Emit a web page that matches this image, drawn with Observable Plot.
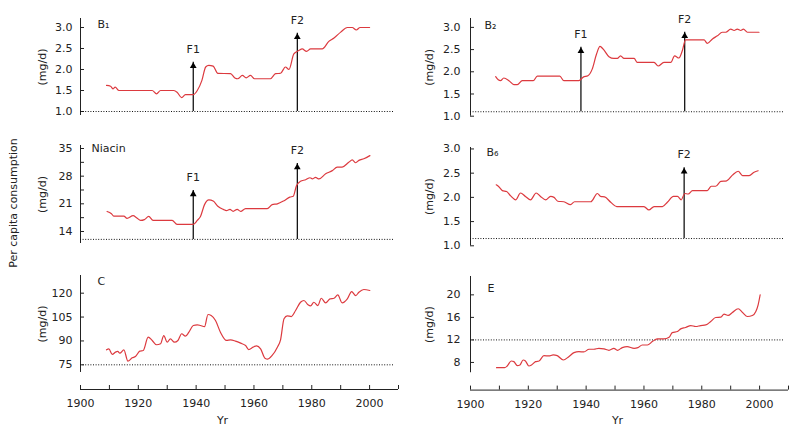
<!DOCTYPE html>
<html>
<head>
<meta charset="utf-8">
<script src="https://cdn.jsdelivr.net/npm/d3@7"></script>
<script src="https://cdn.jsdelivr.net/npm/@observablehq/plot@0.6"></script>
<style>
  html, body { margin: 0; padding: 0; background: #fff; }
  #root { position: relative; width: 800px; height: 439px; overflow: hidden; background: #fff; font-family: "DejaVu Sans", Verdana, sans-serif; }
  #root svg { position: absolute; }
  #ylab { position: absolute; left: 13px; top: 203px; transform: translate(-50%, -50%) rotate(-90deg); font-size: 11px; color: #222; white-space: nowrap; }
</style>
</head>
<body>
<div id="root"><div id="ylab">Per capita consumption</div></div>
<script>
// ---------- data (year, mg/d) ----------
const b1 = [[1909,1.62],[1910.4,1.6],[1911.3,1.54],[1912,1.58],[1913.3,1.5],[1924.8,1.5],[1926.3,1.42],[1927.7,1.5],[1932.3,1.5],[1933.4,1.46],[1935,1.33],[1936.3,1.4],[1939,1.4],[1940.4,1.5],[1942,1.74],[1943.3,2.06],[1944.4,2.1],[1945.9,2.08],[1947.5,1.91],[1951.9,1.9],[1953.4,1.8],[1954.4,1.78],[1956,1.86],[1957.3,1.8],[1958.8,1.86],[1960.2,1.78],[1965.7,1.78],[1967.5,1.9],[1969.2,1.91],[1970.9,2.06],[1972.1,2.0],[1973.8,2.37],[1975.5,2.45],[1976.7,2.49],[1978.2,2.43],[1979.6,2.49],[1983.6,2.49],[1985.9,2.67],[1987.7,2.75],[1990,2.89],[1992.3,3.0],[1994,3.0],[1995.4,2.94],[1996.7,3.0],[2000,3.0]];
const niacin = [[1909.2,19.06],[1910.7,18.5],[1911.5,17.9],[1915,17.9],[1916.1,17.3],[1918.2,18.0],[1919.4,17.5],[1920.8,16.8],[1922.1,17.0],[1923.6,17.8],[1925.1,16.8],[1931.7,16.8],[1933.4,15.8],[1939,15.8],[1940.4,16.8],[1941.5,17.8],[1942.9,20.8],[1944.4,22.0],[1945.9,21.7],[1947.5,20.4],[1949.4,19.6],[1950.5,19.3],[1951.7,19.6],[1952.8,19.1],[1954.2,19.6],[1955.4,19.1],[1957.1,19.8],[1964.6,19.8],[1966.3,20.8],[1968.1,21.0],[1970.4,21.8],[1972.4,22.7],[1973.6,22.9],[1974.7,25.6],[1976.1,26.7],[1977.9,27.1],[1979.4,27.6],[1980.2,27.3],[1981.3,27.7],[1982.5,27.3],[1984.8,28.6],[1987.1,29.4],[1988.8,30.3],[1990.5,30.3],[1992.8,31.5],[1994,32.1],[1995.2,31.4],[1996.3,32.0],[1998,32.4],[2000.1,33.2]];
const vitC = [[1909,84.4],[1909.8,85],[1911,81.5],[1912.1,83],[1912.9,83.4],[1913.6,82.3],[1915,84.4],[1916.4,77.3],[1917.9,79.4],[1919,80.2],[1920.5,83.6],[1921.7,84],[1923.4,92.4],[1924.8,90.3],[1926.3,87.6],[1927.7,88.2],[1928.8,93.4],[1930,89.2],[1931.1,91.3],[1932.5,89.2],[1933.7,90.3],[1935,94.5],[1936.3,93],[1937.5,95.5],[1939,99.7],[1940.4,100.1],[1941.5,99.7],[1942.9,99],[1944.1,106.6],[1945.2,106],[1946.7,102.8],[1948.4,95.5],[1950.5,90.3],[1951.9,90.7],[1953.6,89.9],[1955.4,88.6],[1957.1,87.1],[1958.2,84.6],[1959.7,86.1],[1960.9,86.9],[1962.3,85],[1963.8,79.2],[1964.8,78.6],[1966.3,80.9],[1968.1,86.1],[1969.2,90.7],[1970.4,103.9],[1971.5,105.8],[1972.9,105.3],[1974.4,109.1],[1976.1,114.3],[1977.3,115.4],[1978.7,112.7],[1979.6,112],[1980.7,114.3],[1982.1,112.2],[1983.3,116.8],[1984.8,113.9],[1986.3,116.4],[1987.7,116.8],[1989,118.9],[1990.5,113.9],[1992.3,116.4],[1993.8,121],[1995.2,118.5],[1996.3,120.6],[1998,122.3],[2000.1,121.7]];
const b2 = [[1908.7,1.89],[1909.6,1.82],[1910.4,1.8],[1911.5,1.86],[1913.3,1.8],[1915,1.71],[1916.2,1.71],[1917.9,1.8],[1921.7,1.8],[1923.1,1.9],[1930.9,1.9],[1932.3,1.8],[1937.5,1.8],[1939,1.88],[1940.6,1.91],[1942.1,2.06],[1943.6,2.4],[1944.8,2.57],[1945.9,2.51],[1947.9,2.34],[1949.6,2.3],[1950.8,2.3],[1951.9,2.36],[1953.1,2.3],[1956.6,2.3],[1957.7,2.21],[1963.5,2.21],[1964.9,2.13],[1966.9,2.21],[1969.3,2.21],[1970.6,2.36],[1972.1,2.31],[1973.3,2.48],[1974.4,2.72],[1980.8,2.72],[1981.9,2.64],[1983.7,2.74],[1985.4,2.81],[1987.1,2.89],[1988.3,2.89],[1990,2.96],[1991.2,2.93],[1992.3,2.96],[1993.5,2.93],[1994.4,2.96],[1995.8,2.89],[1999.8,2.89]];
const b6 = [[1908.9,2.26],[1909.8,2.22],[1911,2.14],[1912.5,2.12],[1913.9,2.03],[1915.6,1.95],[1917.3,2.09],[1919,2.02],[1920.8,1.95],[1922.7,2.09],[1924.2,2.02],[1926,1.95],[1927.7,2.02],[1928.9,2.0],[1930.2,1.92],[1932.3,1.91],[1934.6,1.85],[1936,1.91],[1941.6,1.91],[1943.9,2.08],[1945,2.02],[1946.4,2.01],[1948.5,1.9],[1950.6,1.81],[1960,1.81],[1961.7,1.74],[1963.5,1.81],[1966.4,1.81],[1968.1,1.9],[1970.2,2.02],[1971.6,2.02],[1972.9,1.95],[1974.1,2.08],[1975.3,2.07],[1976.8,2.14],[1981.9,2.14],[1983.3,2.23],[1984.8,2.23],[1986.6,2.33],[1988.6,2.34],[1990.6,2.46],[1992.6,2.54],[1994.1,2.45],[1996.4,2.45],[1998.1,2.52],[1999.5,2.55]];
const vitE = [[1909,7.07],[1910.4,7.07],[1911.8,7.07],[1912.7,7.37],[1914.1,8.26],[1915,8.14],[1916.2,7.42],[1917.1,7.54],[1918.2,8.43],[1919,8.26],[1920.2,7.37],[1921.1,7.54],[1922.5,8.14],[1923.7,8.26],[1925.4,9.2],[1927.1,9.15],[1928.6,9.33],[1930,9.2],[1932.1,8.43],[1934,9.03],[1935.8,9.74],[1937.5,9.92],[1939.2,9.86],[1941,10.34],[1942.7,10.34],[1944.4,10.51],[1946.2,10.4],[1947.9,10.16],[1949.6,10.51],[1950.8,10.16],[1952.5,10.63],[1954.2,10.81],[1956.6,10.51],[1957.9,10.63],[1959.4,11.1],[1961.2,11.1],[1962.9,11.7],[1964.6,12.18],[1966.9,12.18],[1968.7,12.48],[1969.8,13.3],[1971.6,13.5],[1972.7,13.96],[1974.4,14.2],[1976.2,14.55],[1977.9,14.38],[1979.6,14.55],[1981.4,14.67],[1983.1,15.27],[1984.8,15.98],[1986.6,16.04],[1987.7,16.57],[1989.1,16.34],[1990.6,16.87],[1992.6,17.53],[1994.1,16.87],[1995.8,16.16],[1997.5,16.34],[1998.7,17.05],[1999.5,18.24],[2000.2,20.02]];

// reference (dotted) levels
const refB1 = 1.0, refNiacin = 12, refC = 75, refB2 = 1.1, refB6 = 1.15, refE = 12;

// fortification arrows: [label, year, arrow top]
const arrowsB1 = [["F1", 1939, 2.17], ["F2", 1975, 2.86]];
const arrowsNiacin = [["F1", 1939, 24.4], ["F2", 1975, 31.2]];
const arrowsB2 = [["F1", 1938.2, 2.55], ["F2", 1974.1, 2.89]];
const arrowsB6 = [["F2", 1973.9, 2.61]];

// ticks
const ticksB = [1.0, 1.5, 2.0, 2.5, 3.0];
const ticksNiacin = [14, 21, 28, 35];
const minorNiacin = [17.5, 24.5, 31.5];
const ticksC = [75, 90, 105, 120];
const ticksE = [8, 12, 16, 20];
const xTicks = d3.range(1900, 2011, 10);
const xTickLabels = [1900, 1920, 1940, 1960, 1980, 2000];

// ---------- drawing ----------
const RED = "#dc3a3f";
const INK = "#222";
const root = document.getElementById("root");

function panel(cfg) {
  const W = 400;
  const mt = 30, mb = cfg.xAxis ? 50 : 14;
  const ml = cfg.col === 0 ? 80 : 70;
  const mr = cfg.col === 0 ? 2 : 12;
  const frameH = cfg.yBot - cfg.yTop;
  const frameW = W - ml - mr;
  const [lineLo, lineHi] = cfg.line;
  const arrows = (cfg.arrows || []).map(([name, year, top]) => ({name, year, top}));
  const marks = [
    Plot.ruleX([1900], {y1: lineLo, y2: lineHi, stroke: INK, strokeWidth: 1}),
    Plot.ruleY(cfg.ticks.concat(cfg.minor || []), {insetRight: frameW - 4, stroke: INK, strokeWidth: 1}),
    Plot.axisY(cfg.ticks, {tickSize: 0, tickPadding: cfg.col === 0 ? 8 : 10, tickFormat: cfg.fmt, label: null, fontSize: 11, fill: INK}),
    Plot.ruleY([cfg.base], {x1: 1900, x2: 2008.5, stroke: "#111", strokeWidth: 1, strokeDasharray: "1,1.6"}),
    Plot.ruleX(arrows, {x: "year", y1: cfg.base, y2: "top", stroke: "#000", strokeWidth: 1.2}),
    Plot.dot(arrows, {x: "year", y: "top", symbol: "triangle", r: 2.5, fill: "#000", stroke: null, dy: 3.8}),
    Plot.text(arrows, {x: "year", y: "top", text: "name", dy: -13, fontSize: 11, fill: INK}),
    Plot.line(cfg.data, {x: d => d[0], y: d => d[1], curve: "monotone-x", stroke: RED, strokeWidth: 1.2}),
    Plot.text([cfg.label], {frameAnchor: "top-left", textAnchor: "start", dx: cfg.labelDx, dy: cfg.labelDy, fontSize: 11, fill: INK}),
    Plot.text(["(mg/d)"], {x: 1900, y: (lineLo + lineHi) / 2, rotate: -90, dx: cfg.col === 0 ? -38 : -41, fontSize: 11, fill: INK})
  ];
  if (cfg.xAxis) {
    marks.push(
      Plot.ruleY([cfg.domain[0]], {x1: 1900, x2: 2010, stroke: INK, strokeWidth: 1}),
      Plot.ruleX(xTicks, {insetTop: frameH - 4, stroke: INK, strokeWidth: 1}),
      Plot.axisX(xTickLabels, {tickSize: 0, tickPadding: 10, tickFormat: "d", label: null, fontSize: 11, fill: INK}),
      Plot.text(["Yr"], {frameAnchor: "bottom", dx: cfg.yrDx, dy: 34, fontSize: 11, fill: INK})
    );
  }
  const svg = Plot.plot({
    width: W,
    height: frameH + mt + mb,
    marginTop: mt, marginBottom: mb, marginLeft: ml, marginRight: mr,
    x: {domain: [1900, 2010], axis: null},
    y: {domain: cfg.domain, axis: null},
    style: {background: "transparent", overflow: "visible", fontFamily: "'DejaVu Sans', Verdana, sans-serif", fontSize: "11px", color: INK},
    marks
  });
  svg.style.left = (cfg.col * 400) + "px";
  svg.style.top = (cfg.yTop - mt) + "px";
  root.appendChild(svg);
}

// left column
panel({col: 0, yTop: 18, yBot: 115, domain: [0.905, 3.214], line: [0.905, 3.214], ticks: ticksB, fmt: ".1f",
  base: refB1, data: b1, arrows: arrowsB1, label: "B\u2081", labelDx: 17, labelDy: 2});
panel({col: 0, yTop: 145, yBot: 243, domain: [10.96, 35.76], line: [10.96, 35.76], ticks: ticksNiacin, minor: minorNiacin, fmt: "d",
  base: refNiacin, data: niacin, arrows: arrowsNiacin, label: "Niacin", labelDx: 11, labelDy: -1});
panel({col: 0, yTop: 275, yBot: 389, domain: [59.5, 131.1], line: [70.2, 131.1], ticks: ticksC, fmt: "d",
  base: refC, data: vitC, label: "C", labelDx: 17, labelDy: 2, xAxis: true, yrDx: -17});

// right column
panel({col: 1, yTop: 18, yBot: 115.7, domain: [1.0, 3.2], line: [1.0, 3.2], ticks: ticksB, fmt: ".1f",
  base: refB2, data: b2, arrows: arrowsB2, label: "B\u2082", labelDx: 14, labelDy: 3});
panel({col: 1, yTop: 146.7, yBot: 245, domain: [1.0, 3.03], line: [1.0, 3.03], ticks: ticksB, fmt: ".1f",
  base: refB6, data: b6, arrows: arrowsB6, label: "B\u2086", labelDx: 16, labelDy: 1});
panel({col: 1, yTop: 275.7, yBot: 389.3, domain: [3.09, 23.26], line: [6.17, 23.26], ticks: ticksE, fmt: "d",
  base: refE, data: vitE, label: "E", labelDx: 17, labelDy: 8, xAxis: true, yrDx: -12});
</script>
</body>
</html>
